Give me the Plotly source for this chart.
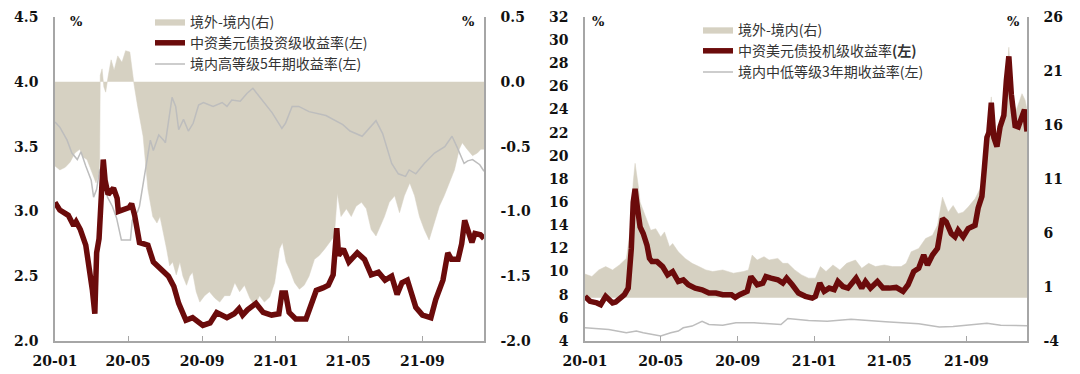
import plotly.graph_objects as go

# ---------------- Left chart data ----------------
L_spread_dates = ["2020-01-01","2020-01-09","2020-01-18","2020-01-26","2020-02-03","2020-02-11","2020-02-16","2020-02-23","2020-02-28","2020-03-04","2020-03-09","2020-03-14","2020-03-15","2020-03-16","2020-03-19","2020-03-22","2020-03-25","2020-03-29","2020-04-03","2020-04-08","2020-04-14","2020-04-21","2020-04-27","2020-05-04","2020-05-07","2020-05-11","2020-05-17","2020-05-26","2020-06-03","2020-06-11","2020-06-18","2020-06-23","2020-07-04","2020-07-09","2020-07-14","2020-07-20","2020-07-26","2020-07-31","2020-08-06","2020-08-11","2020-08-16","2020-08-22","2020-08-28","2020-09-05","2020-09-13","2020-09-22","2020-09-30","2020-10-08","2020-10-17","2020-10-25","2020-11-02","2020-11-10","2020-11-19","2020-11-27","2020-12-05","2020-12-13","2020-12-22","2020-12-30","2021-01-07","2021-01-12","2021-01-18","2021-01-24","2021-02-01","2021-02-09","2021-02-17","2021-02-25","2021-03-06","2021-03-14","2021-03-23","2021-03-31","2021-04-08","2021-04-13","2021-04-19","2021-04-28","2021-05-06","2021-05-14","2021-05-23","2021-05-31","2021-06-08","2021-06-16","2021-06-25","2021-06-30","2021-07-08","2021-07-17","2021-07-25","2021-08-02","2021-08-11","2021-08-19","2021-08-27","2021-09-04","2021-09-12","2021-09-21","2021-09-29","2021-10-07","2021-10-16","2021-10-24","2021-11-01","2021-11-06","2021-11-14","2021-11-23","2021-12-01","2021-12-07","2021-12-12"]
L_spread_vals = [-0.65,-0.68,-0.66,-0.62,-0.55,-0.52,-0.58,-0.60,-0.66,-0.72,-0.78,-0.70,-0.60,0.05,0.10,-0.04,-0.08,0.04,0.17,0.09,0.20,0.15,0.24,0.23,0.10,-0.02,-0.19,-0.42,-0.83,-1.04,-1.09,-1.04,-1.29,-1.42,-1.39,-1.49,-1.39,-1.50,-1.57,-1.50,-1.47,-1.62,-1.70,-1.65,-1.62,-1.67,-1.70,-1.65,-1.65,-1.55,-1.62,-1.57,-1.67,-1.73,-1.65,-1.70,-1.66,-1.55,-1.29,-1.24,-1.39,-1.45,-1.55,-1.60,-1.57,-1.50,-1.37,-1.34,-1.29,-1.24,-1.19,-0.86,-1.04,-0.98,-1.04,-0.96,-0.93,-0.98,-1.14,-1.19,-1.09,-1.04,-0.93,-0.88,-1.01,-0.88,-0.78,-0.88,-1.04,-1.14,-1.22,-1.09,-0.96,-0.88,-0.78,-0.68,-0.52,-0.47,-0.52,-0.57,-0.55,-0.52,-0.52]

L_ig_dates = ["2020-01-01","2020-01-09","2020-01-23","2020-02-01","2020-02-05","2020-02-12","2020-02-21","2020-02-28","2020-03-03","2020-03-07","2020-03-10","2020-03-14","2020-03-17","2020-03-20","2020-03-21","2020-03-24","2020-03-29","2020-04-07","2020-04-13","2020-04-15","2020-05-03","2020-05-07","2020-05-12","2020-05-20","2020-06-03","2020-06-12","2020-06-26","2020-07-07","2020-07-16","2020-07-24","2020-08-05","2020-08-16","2020-09-02","2020-09-14","2020-09-25","2020-10-12","2020-10-24","2020-11-01","2020-11-07","2020-11-15","2020-11-29","2020-12-11","2020-12-25","2021-01-06","2021-01-11","2021-01-17","2021-01-23","2021-02-03","2021-02-20","2021-02-28","2021-03-09","2021-03-20","2021-03-29","2021-04-06","2021-04-12","2021-04-15","2021-04-23","2021-05-02","2021-05-16","2021-05-28","2021-06-08","2021-06-20","2021-07-01","2021-07-12","2021-07-21","2021-07-29","2021-08-07","2021-08-13","2021-08-21","2021-09-01","2021-09-15","2021-09-23","2021-10-05","2021-10-13","2021-10-19","2021-10-30","2021-11-05","2021-11-10","2021-11-16","2021-11-22","2021-11-27","2021-12-06","2021-12-12"]
L_ig_vals = [3.07,3.01,2.97,2.89,2.92,2.86,2.74,2.55,2.39,2.21,2.68,2.79,3.10,3.26,3.40,3.24,3.13,3.18,3.10,3.00,3.03,3.06,2.97,2.76,2.74,2.61,2.55,2.50,2.42,2.29,2.16,2.18,2.12,2.14,2.22,2.18,2.21,2.25,2.20,2.24,2.29,2.22,2.20,2.21,2.37,2.37,2.22,2.17,2.17,2.29,2.39,2.41,2.43,2.51,2.87,2.66,2.71,2.61,2.68,2.63,2.51,2.53,2.47,2.50,2.36,2.45,2.47,2.38,2.26,2.20,2.18,2.32,2.47,2.68,2.63,2.63,2.75,2.93,2.84,2.76,2.83,2.82,2.79]

L_hg_dates = ["2020-01-01","2020-01-09","2020-01-21","2020-01-29","2020-02-07","2020-02-13","2020-02-21","2020-03-01","2020-03-05","2020-03-10","2020-03-15","2020-03-18","2020-03-23","2020-03-28","2020-04-05","2020-04-12","2020-04-20","2020-05-05","2020-05-08","2020-05-17","2020-05-20","2020-05-25","2020-06-02","2020-06-07","2020-06-12","2020-06-21","2020-06-29","2020-07-02","2020-07-13","2020-07-19","2020-07-24","2020-08-01","2020-08-09","2020-08-17","2020-08-26","2020-09-03","2020-09-19","2020-10-04","2020-10-12","2020-10-20","2020-11-03","2020-11-14","2020-11-24","2020-12-06","2020-12-17","2020-12-26","2021-01-11","2021-01-17","2021-01-28","2021-02-08","2021-02-25","2021-03-25","2021-04-22","2021-05-04","2021-05-24","2021-06-07","2021-06-16","2021-06-27","2021-07-12","2021-07-23","2021-08-04","2021-08-10","2021-08-21","2021-09-04","2021-09-21","2021-10-08","2021-10-20","2021-10-28","2021-11-09","2021-11-15","2021-11-23","2021-12-05","2021-12-12"]
L_hg_vals = [3.69,3.65,3.55,3.45,3.40,3.46,3.35,3.24,3.11,3.17,3.32,3.34,3.24,3.11,3.04,2.95,2.78,2.78,2.93,3.00,3.04,3.19,3.40,3.55,3.47,3.59,3.55,3.53,3.88,3.81,3.63,3.71,3.62,3.68,3.82,3.84,3.81,3.84,3.81,3.86,3.85,3.91,3.95,3.88,3.81,3.76,3.64,3.68,3.81,3.81,3.77,3.74,3.67,3.62,3.58,3.65,3.70,3.60,3.37,3.29,3.27,3.32,3.29,3.37,3.45,3.50,3.58,3.50,3.37,3.39,3.40,3.36,3.31]

# ---------------- Right chart data ----------------
R_spread_dates = ["2020-01-01","2020-01-12","2020-01-23","2020-02-03","2020-02-14","2020-02-25","2020-03-07","2020-03-13","2020-03-18","2020-03-21","2020-03-26","2020-03-29","2020-04-06","2020-04-15","2020-04-23","2020-05-01","2020-05-07","2020-05-15","2020-05-20","2020-05-29","2020-06-09","2020-06-20","2020-07-01","2020-07-12","2020-07-23","2020-08-08","2020-08-25","2020-09-10","2020-09-18","2020-09-24","2020-10-02","2020-10-13","2020-10-21","2020-11-04","2020-11-12","2020-11-20","2020-12-01","2020-12-12","2020-12-23","2021-01-03","2021-01-11","2021-01-20","2021-01-31","2021-02-11","2021-02-22","2021-03-08","2021-03-18","2021-03-29","2021-04-09","2021-04-23","2021-05-06","2021-05-20","2021-05-28","2021-06-05","2021-06-17","2021-06-28","2021-07-09","2021-07-17","2021-07-25","2021-08-03","2021-08-11","2021-08-19","2021-08-27","2021-09-04","2021-09-15","2021-09-23","2021-09-29","2021-10-04","2021-10-11","2021-10-15","2021-10-21","2021-10-26","2021-11-01","2021-11-08","2021-11-13","2021-11-20","2021-11-29","2021-12-04","2021-12-07"]
R_spread_vals = [2.2,1.97,2.58,2.89,2.58,3.04,3.65,6.1,10.7,12.45,10.4,8.86,7.63,6.25,6.4,5.64,6.1,4.72,5.03,4.26,3.65,3.19,2.89,2.58,2.43,2.58,2.28,2.43,2.58,3.96,3.5,3.81,3.5,3.65,3.19,3.19,2.58,2.12,1.82,1.82,2.89,2.43,3.04,2.58,3.19,3.5,2.73,3.19,2.89,3.04,2.89,2.89,3.19,4.26,4.57,5.49,5.79,6.71,9.32,7.93,8.55,7.79,7.93,8.4,9.17,10.08,11.5,15.2,18.6,15.2,14.6,16.2,17.7,23.2,18.3,17.4,18.9,18.3,17.4]

R_hy_dates = ["2020-01-01","2020-01-09","2020-01-20","2020-01-26","2020-02-03","2020-02-08","2020-02-14","2020-02-19","2020-02-28","2020-03-04","2020-03-10","2020-03-15","2020-03-18","2020-03-21","2020-03-25","2020-03-29","2020-04-03","2020-04-09","2020-04-13","2020-04-17","2020-04-25","2020-05-04","2020-05-12","2020-05-20","2020-05-29","2020-06-06","2020-06-14","2020-06-25","2020-07-06","2020-07-17","2020-07-28","2020-08-08","2020-08-22","2020-08-28","2020-09-04","2020-09-16","2020-09-22","2020-09-27","2020-10-02","2020-10-11","2020-10-16","2020-10-24","2020-11-04","2020-11-12","2020-11-18","2020-11-27","2020-12-07","2020-12-18","2020-12-29","2021-01-03","2021-01-10","2021-01-17","2021-01-25","2021-02-02","2021-02-08","2021-02-16","2021-02-24","2021-03-09","2021-03-18","2021-03-24","2021-04-01","2021-04-12","2021-04-21","2021-05-01","2021-05-12","2021-05-23","2021-05-31","2021-06-09","2021-06-17","2021-06-25","2021-07-01","2021-07-09","2021-07-17","2021-07-25","2021-07-31","2021-08-08","2021-08-14","2021-08-19","2021-08-27","2021-09-04","2021-09-15","2021-09-20","2021-09-26","2021-09-30","2021-10-04","2021-10-07","2021-10-11","2021-10-15","2021-10-20","2021-10-25","2021-10-31","2021-11-04","2021-11-08","2021-11-12","2021-11-18","2021-11-23","2021-11-29","2021-12-03","2021-12-07"]
R_hy_vals = [7.86,7.43,7.29,7.14,7.86,7.57,7.29,7.37,7.86,8.0,8.57,12.0,16.0,17.14,15.4,13.86,13.29,12.29,11.14,10.86,10.86,10.43,9.71,10.0,9.14,9.29,8.86,8.57,8.43,8.14,8.14,8.0,8.0,7.77,8.0,8.29,9.57,9.29,8.86,9.0,9.57,9.43,9.29,9.0,9.43,8.86,8.14,7.86,7.71,7.86,9.0,8.29,8.57,8.43,9.14,8.71,8.57,9.43,8.57,9.14,8.57,9.14,8.57,8.57,8.63,8.29,8.86,10.0,10.29,11.43,10.57,11.43,12.0,14.57,14.29,13.29,13.0,13.57,13.0,13.71,14.0,15.5,16.5,19.0,21.6,22.0,24.6,21.6,20.8,22.5,23.5,26.5,28.6,25.3,22.6,22.5,23.5,24.0,22.1]

R_lg_dates = ["2020-01-01","2020-02-08","2020-03-07","2020-03-23","2020-04-03","2020-05-01","2020-05-17","2020-05-29","2020-06-06","2020-06-20","2020-07-06","2020-07-17","2020-08-08","2020-08-29","2020-09-27","2020-11-09","2020-11-20","2020-12-23","2021-01-22","2021-03-01","2021-04-25","2021-06-17","2021-07-20","2021-08-11","2021-10-04","2021-10-26","2021-12-07"]
R_lg_vals = [5.14,5.0,4.71,4.86,4.71,4.43,4.71,4.86,5.14,5.29,5.71,5.43,5.37,5.57,5.57,5.43,5.94,5.77,5.71,5.89,5.66,5.49,5.2,5.26,5.54,5.37,5.31]

X_TICKS = ["2020-01-01","2020-05-01","2020-09-01","2021-01-01","2021-05-01","2021-09-01"]
X_TICK_TEXT = ["20-01","20-05","20-09","21-01","21-05","21-09"]
L_RIGHT_TICKS = [-2.0, -1.5, -1.0, -0.5, 0.0, 0.5]
L_RIGHT_TEXT = ["-2.0", "-1.5", "-1.0", "-0.5", "0.0", "0.5"]
R_RIGHT_TICKS = [-4, 1, 6, 11, 16, 21, 26]
R_RIGHT_TEXT = ["-4", "1", "6", "11", "16", "21", "26"]

L_names = ["境外-境内(右)", "中资美元债投资级收益率(左)", "境内高等级5年期收益率(左)"]
R_names = ["境外-境内(右)", "中资美元债投机级收益率<b>(左)</b>", "境内中低等级3年期收益率(左)"]

BEIGE = "#d6d1c2"
RED = "#6b0b0b"
GREY = "#bdbdbd"
AXIS = "#a6a6a6"
W, H = 1080, 374
ML, MR, MT, MB = 55, 53, 17, 33
PW, PH = W - ML - MR, H - MT - MB


def fx(px):
    return (px - ML) / PW


def fy(py):
    return (H - MB - py) / PH


fig = go.Figure()
# left chart
fig.add_trace(go.Scatter(x=L_spread_dates, y=L_spread_vals, xaxis="x", yaxis="y", mode="lines",
                         fill="tozeroy", fillcolor=BEIGE, line=dict(color=BEIGE, width=0.5),
                         name=L_names[0], legend="legend", legendrank=1, legendgroup="l1"))
fig.add_trace(go.Scatter(x=L_hg_dates, y=L_hg_vals, xaxis="x", yaxis="y2", mode="lines",
                         line=dict(color=GREY, width=1.5), name=L_names[2], legend="legend",
                         legendrank=3, legendgroup="l3"))
fig.add_trace(go.Scatter(x=L_ig_dates, y=L_ig_vals, xaxis="x", yaxis="y2", mode="lines",
                         line=dict(color=RED, width=5.5), name=L_names[1], legend="legend",
                         legendrank=2, legendgroup="l2"))
# right chart
fig.add_trace(go.Scatter(x=R_spread_dates, y=R_spread_vals, xaxis="x2", yaxis="y3", mode="lines",
                         fill="tozeroy", fillcolor=BEIGE, line=dict(color=BEIGE, width=0.5),
                         name=R_names[0], legend="legend2", legendrank=1, legendgroup="r1"))
fig.add_trace(go.Scatter(x=R_lg_dates, y=R_lg_vals, xaxis="x2", yaxis="y4", mode="lines",
                         line=dict(color=GREY, width=1.5), name=R_names[2], legend="legend2",
                         legendrank=3, legendgroup="r3"))
fig.add_trace(go.Scatter(x=R_hy_dates, y=R_hy_vals, xaxis="x2", yaxis="y4", mode="lines",
                         line=dict(color=RED, width=5.5), name=R_names[1], legend="legend2",
                         legendrank=2, legendgroup="r2"))

TICKFONT = dict(family="DejaVu Serif", size=14, color="#111111", weight="bold")


def xax(domain, anchor, end):
    return dict(domain=domain, anchor=anchor, type="date", range=["2020-01-01", end],
                tickvals=X_TICKS, ticktext=X_TICK_TEXT, showline=True, linecolor=AXIS, linewidth=1.5,
                ticks="inside", ticklen=5, tickcolor=AXIS, showgrid=False, zeroline=False,
                tickfont=TICKFONT, ticklabelstandoff=6, automargin=False)


def yax(rng, side, anchor, overlaying=None, dtick=None, fmt=None, tickvals=None, ticktext=None):
    d = dict(range=rng, side=side, anchor=anchor, showline=True,
             linecolor=AXIS, linewidth=1.5, ticks="", showgrid=False, zeroline=False,
             tickfont=TICKFONT, ticklabelstandoff=12, automargin=False)
    if overlaying:
        d["overlaying"] = overlaying
    else:
        d["domain"] = [0, 1]
    if tickvals is not None:
        d["tickvals"] = tickvals
        d["ticktext"] = ticktext
    else:
        d["dtick"] = dtick
        d["tickformat"] = fmt
    return d


LEGFONT = dict(family="Noto Sans CJK SC", size=14, color="#333333")

fig.update_layout(
    template="none",
    width=W, height=H, margin=dict(l=ML, r=MR, t=MT, b=MB, pad=0, autoexpand=False),
    paper_bgcolor="white", plot_bgcolor="white",
    xaxis=xax([0, fx(484)], "y", "2021-12-12"),
    yaxis=yax([-2, 0.5], "right", "x", tickvals=L_RIGHT_TICKS, ticktext=L_RIGHT_TEXT),
    yaxis2=yax([2, 4.5], "left", "x", overlaying="y", dtick=0.5, fmt=".1f"),
    xaxis2=xax([fx(585), 1], "y3", "2021-12-07"),
    yaxis3=yax([-4, 26], "right", "x2", tickvals=R_RIGHT_TICKS, ticktext=R_RIGHT_TEXT),
    yaxis4=yax([4, 32], "left", "x2", overlaying="y3", dtick=2, fmt="d"),
    legend=dict(x=fx(150), y=fy(6), xanchor="left", yanchor="top", bgcolor="rgba(0,0,0,0)",
                font=LEGFONT, tracegroupgap=0, itemwidth=30, traceorder="grouped", borderwidth=0),
    legend2=dict(x=fx(698), y=fy(14), xanchor="left", yanchor="top", bgcolor="rgba(0,0,0,0)",
                 font=LEGFONT, tracegroupgap=0, itemwidth=30, traceorder="grouped", borderwidth=0),
    showlegend=True,
)

for px in (76, 468, 598, 1013):
    fig.add_annotation(x=fx(px), y=fy(22), xref="paper", yref="paper", text="%", showarrow=False,
                       xanchor="center", yanchor="middle",
                       font=dict(family="DejaVu Serif", size=13, color="#111111", weight="bold"))

fig.write_html("out.html", config={"displayModeBar": False},
               post_script="document.body.style.margin='0px';")
